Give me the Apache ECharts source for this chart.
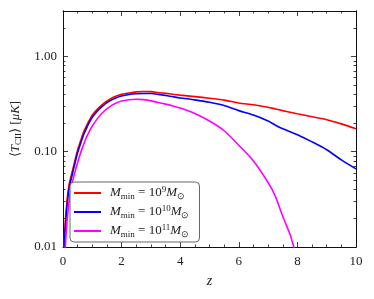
<!DOCTYPE html>
<html>
<head>
<meta charset="utf-8">
<script src="https://cdn.jsdelivr.net/npm/echarts@6/dist/echarts.min.js"></script>
<style>
html,body{margin:0;padding:0;background:#fff;}
#chart{width:374px;height:299px;}
</style>
</head>
<body>
<div id="chart"></div>
<script>
const zValues = [0.03, 0.1, 0.2, 0.3, 0.4, 0.5, 0.6, 0.7, 0.8, 0.9, 1.0,
  1.2, 1.4, 1.6, 1.8, 2.0, 2.25, 2.5, 2.75, 3.0, 3.25, 3.5, 3.75, 4.0,
  4.5, 5.0, 5.5, 6.0, 6.5, 7.0, 7.25, 7.5, 7.75, 8.0, 8.5, 9.0, 9.5, 10.0];
const tMmin9 = [0.0095, 0.023, 0.0437, 0.059, 0.079, 0.105, 0.130, 0.160, 0.187, 0.214, 0.243,
  0.285, 0.324, 0.356, 0.382, 0.400, 0.414, 0.425, 0.429, 0.427, 0.418, 0.410, 0.401, 0.393,
  0.379, 0.364, 0.348, 0.325, 0.311, 0.293, 0.281, 0.270, 0.260, 0.250, 0.233, 0.217, 0.196, 0.174];
const tMmin10 = [0.0085, 0.020, 0.040, 0.055, 0.074, 0.098, 0.122, 0.150, 0.176, 0.203, 0.230,
  0.272, 0.311, 0.342, 0.367, 0.385, 0.399, 0.406, 0.409, 0.408, 0.400, 0.390, 0.378, 0.367,
  0.350, 0.330, 0.305, 0.270, 0.243, 0.210, 0.190, 0.174, 0.162, 0.151, 0.127, 0.105, 0.082, 0.066];
const tMmin11 = [0.0045, 0.013, 0.029, 0.045, 0.060, 0.077, 0.097, 0.118, 0.142, 0.164, 0.186,
  0.228, 0.266, 0.298, 0.322, 0.340, 0.351, 0.356, 0.352, 0.342, 0.328, 0.316, 0.302, 0.288,
  0.252, 0.210, 0.166, 0.117, 0.080, 0.0475, 0.034, 0.021, 0.0135, 0.0075, 0.003, 0.0015, 0.001, 0.001];
const xTickValues = [0, 2, 4, 6, 8, 10];
const yMajorTicks = [0.01, 0.1, 1];
const yMinorTicks = [0.02,0.03,0.04,0.05,0.06,0.07,0.08,0.09,0.2,0.3,0.4,0.5,0.6,0.7,0.8,0.9,2,3];
const seriesNames = ['M9', 'M10', 'M11'];
const legendExp = {M9: '9', M10: '10', M11: '11'};

const FONT = 'Liberation Serif';
const chart = echarts.init(document.getElementById('chart'));

const toPairs = arr => zValues.map((z, i) => [z, arr[i]]);
const lineColor = '#111';

const baseRich = {
  i: {fontFamily: FONT, fontStyle: 'italic', fontSize: 13, color: '#222', lineHeight: 16},
  r: {fontFamily: FONT, fontSize: 13, color: '#222', lineHeight: 16},
  sub: {fontFamily: FONT, fontSize: 9, color: '#222', lineHeight: 9, verticalAlign: 'bottom'},
  sup: {fontFamily: FONT, fontSize: 9, color: '#222', lineHeight: 9, verticalAlign: 'top'}
};

function yAxisDef(pos, ticks, len, showLabel) {
  return {
    type: 'log', logBase: 10, min: 0.01, max: 3, position: pos,
    axisLine: {show: true, lineStyle: {color: lineColor, width: 1}},
    axisTick: {show: true, inside: true, length: len, customValues: ticks, lineStyle: {color: lineColor, width: 0.8}},
    axisLabel: showLabel ? {show: true, customValues: ticks, formatter: v => Number(v).toFixed(2), fontFamily: FONT, fontSize: 13, color: '#222', margin: 6} : {show: false},
    splitLine: {show: false}
  };
}

const yAxes = [yAxisDef('left', yMajorTicks, 5, true), yAxisDef('left', yMinorTicks, 2.5, false), yAxisDef('right', yMajorTicks, 5, false), yAxisDef('right', yMinorTicks, 2.5, false)];
yAxes[0].name = '{r|⟨}{i|T}{sub|CII}{r|⟩ [}{i|μK}{r|]}';
yAxes[0].nameLocation = 'middle';
yAxes[0].nameRotate = 90;
yAxes[0].nameGap = 37;
yAxes[0].nameTextStyle = {rich: baseRich};

function xAxisDef(pos, showLabel) {
  return {
    type: 'value', min: 0, max: 10, interval: 2, position: pos,
    axisLine: {show: true, lineStyle: {color: lineColor, width: 1}},
    axisTick: {show: true, inside: true, length: 5, lineStyle: {color: lineColor, width: 0.8}},
    minorTick: {show: true, splitNumber: 4, length: 2.5, lineStyle: {color: lineColor, width: 0.8}},
    axisLabel: showLabel ? {show: true, customValues: xTickValues, fontFamily: FONT, fontSize: 13, color: '#222', margin: 8} : {show: false},
    splitLine: {show: false}, minorSplitLine: {show: false}
  };
}
const xAxes = [xAxisDef('bottom', true), xAxisDef('top', false)];
xAxes[0].name = 'z';
xAxes[0].nameLocation = 'middle';
xAxes[0].nameGap = 27;
xAxes[0].nameTextStyle = {fontFamily: FONT, fontStyle: 'italic', fontSize: 14, color: '#222'};

const colors = ['#ff0000', '#0000ff', '#ff00ff'];
const dataSets = [tMmin9, tMmin10, tMmin11];

chart.setOption({
  animation: false,
  backgroundColor: '#fff',
  grid: {left: 63, right: 18, top: 11, bottom: 52, containLabel: false},
  xAxis: xAxes,
  yAxis: yAxes,
  legend: {
    orient: 'vertical', left: 70, top: 182,
    padding: [3, 10, 3, 4],
    itemWidth: 27, itemHeight: 2, itemGap: 3, icon: 'rect',
    borderColor: '#666', borderWidth: 1, borderRadius: 4,
    backgroundColor: 'rgba(255,255,255,0.85)',
    data: seriesNames,
    formatter: n => '{i|M}{sub|min}{r| = 10}{sup|' + legendExp[n] + '}{i|M}{sub|⊙}',
    textStyle: {padding: [0, 0, 0, 4], rich: baseRich}
  },
  series: seriesNames.map((n, k) => ({
    name: n, type: 'line', xAxisIndex: 0, yAxisIndex: 0,
    data: toPairs(dataSets[k]), symbol: 'none', smooth: 0.25,
    lineStyle: {color: colors[k], width: 1.6}, itemStyle: {color: colors[k]}, clip: true
  }))
});
</script>
</body>
</html>
